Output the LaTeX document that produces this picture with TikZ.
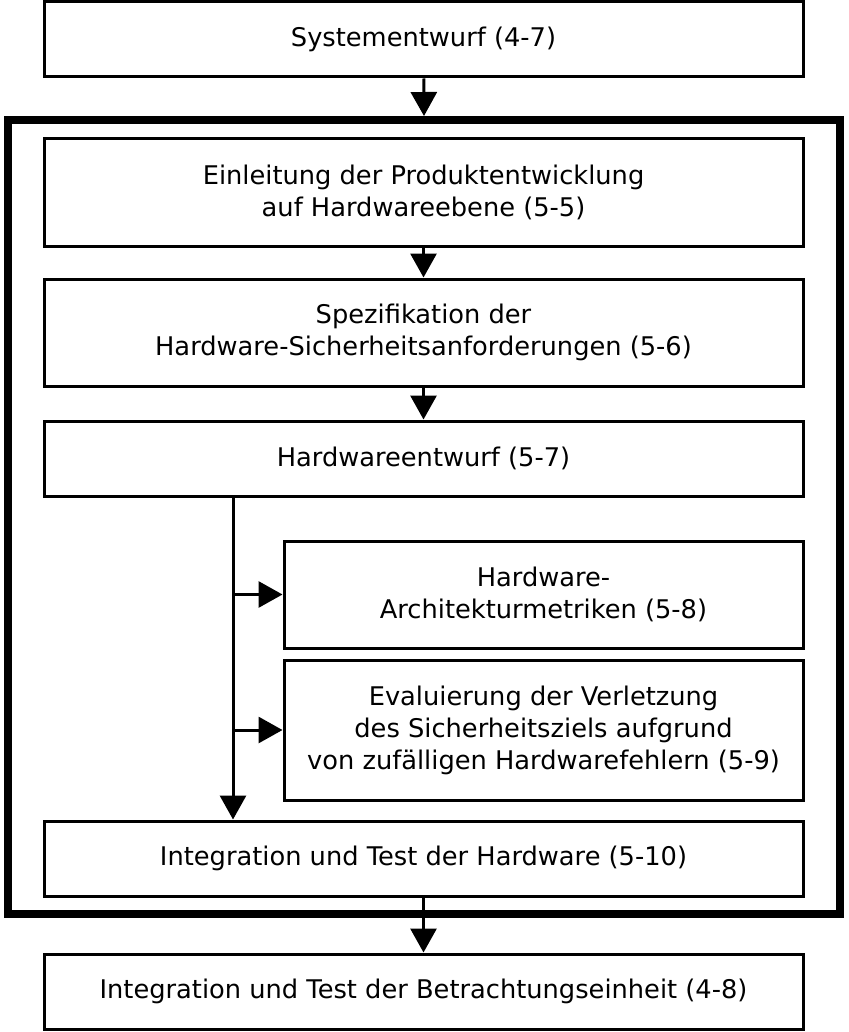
\documentclass[tikz,border=0pt]{standalone}
\usepackage{fontspec}
\setmainfont{DejaVu Sans}
\usetikzlibrary{arrows.meta,calc}

\begin{document}
\begin{tikzpicture}[x=1pt,y=-1pt,
  block/.style={draw,line width=3pt,align=center,inner sep=0pt,
    font=\fontsize{25.7}{32}\selectfont},
  flow/.style={line width=3pt,-{Triangle[width=26pt,length=24pt]}}]
\useasboundingbox (0,0) rectangle (848,1032);

\node[draw,line width=8pt,minimum width=832,minimum height=794] (frame) at (424,517) {};

\node[block,minimum width=759,minimum height=75] (sys) at (423.5,39.5) {Systementwurf (4-7)};
\node[block,minimum width=759,minimum height=107] (init) at (423.5,192.5) {Einleitung der Produktentwicklung\\auf Hardwareebene (5-5)};
\node[block,minimum width=759,minimum height=107] (spec) at (423.5,332.5) {Spezifikation der\\Hardware-Sicherheitsanforderungen (5-6)};
\node[block,minimum width=759,minimum height=75] (design) at (423.5,458.5) {Hardwareentwurf (5-7)};
\node[block,minimum width=519,minimum height=107] (metric) at (543.5,594.5) {Hardware-\\Architekturmetriken (5-8)};
\node[block,minimum width=519,minimum height=140] (eval) at (543.5,730) {Evaluierung der Verletzung\\des Sicherheitsziels aufgrund\\von zufälligen Hardwarefehlern (5-9)};
\node[block,minimum width=759,minimum height=75] (integ) at (423.5,858.5) {Integration und Test der Hardware (5-10)};
\node[block,minimum width=759,minimum height=75] (item) at (423.5,991.5) {Integration und Test der Betrachtungseinheit (4-8)};

\draw[flow] (sys) -- (frame.north);
\draw[flow] (init) -- (spec);
\draw[flow] (spec) -- (design);
\draw[flow] (integ) -- (item);

% bus from Hardwareentwurf down to integration
\coordinate (bus) at ($(design.south west)!0.25!(design.south east)$);
\draw[flow] (bus) -- (bus |- integ.north);
\draw[flow] (bus |- metric.west) -- (metric.west);
\draw[flow] (bus |- eval.west) -- (eval.west);
\end{tikzpicture}
\end{document}
